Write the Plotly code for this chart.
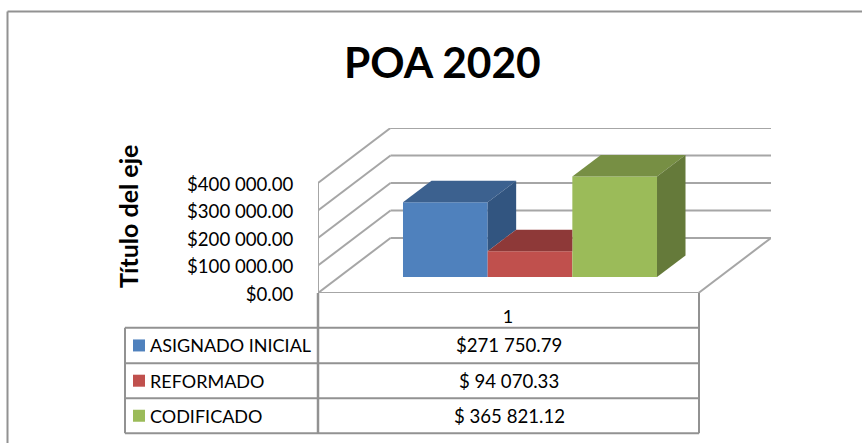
import plotly.graph_objects as go

# ---- data ----
series_names = ["ASIGNADO INICIAL", "REFORMADO", "CODIFICADO"]
series_values = [271750.79, 94070.33, 365821.12]
series_labels = ["$271 750.79", "$ 94 070.33", "$ 365 821.12"]
category = ["1"]
y_tick_vals = [0, 100000, 200000, 300000, 400000]
y_tick_text = ["$0.00", "$100 000.00", "$200 000.00", "$300 000.00", "$400 000.00"]
title_text = "POA 2020"
axis_title = "Título del eje"

# ---- style ----
FRONT = ["#4f81bd", "#c0504d", "#9bbb59"]
TOP = ["#3c618f", "#8e3938", "#778f44"]
SIDE = ["#325580", "#7a3130", "#657a3a"]
GRID = "#a6a6a6"
TABLE = "#929292"
FONT = "Lato"
TXT = 18
TXT_VAL = 18.6
W, H = 862, 443
L, R, T, B = 318, 771, 128, 293
PX_PER_X = 380.0          # pixels per category unit
X_MIN = 0.5
X_MAX = X_MIN + (R - L) / PX_PER_X
Y_MAX = 600000
PX_PER_Y = (B - T) / Y_MAX
WALL_DX = 72.5 / PX_PER_X  # oblique depth of the floor, x units
WALL_DY = 55 / PX_PER_Y    # oblique depth of the floor, value units
BAR_DX = 28.5 / PX_PER_X   # depth of a bar
BAR_DY = 21.5 / PX_PER_Y
LIFT_X = 22 / PX_PER_X     # offset of bars' front face from the front edge
LIFT_Y = 16 / PX_PER_Y
BAR_W = 84.67 / PX_PER_X


def paper_x(px):
    return (px - L) / (R - L)


def paper_y(py):
    return (B - py) / (B - T)


fig = go.Figure()
cx = 1 + LIFT_X
n = len(series_values)
for i, (name, v) in enumerate(zip(series_names, series_values)):
    fig.add_trace(go.Bar(x=[cx], y=[v], base=LIFT_Y, name=name, marker=dict(color=FRONT[i], line=dict(width=0)),
                         showlegend=False))

for i, v in enumerate(series_values):
    x0 = cx + (i - n / 2) * BAR_W
    x1 = x0 + BAR_W
    top = LIFT_Y + v
    nxt = series_values[i + 1] if i + 1 < n else None
    # hidden-surface handling against the right-hand neighbour
    if nxt is not None and nxt > v:
        tx = [x0, x1, x1, x0 + BAR_DX, x0]
    else:
        tx = [x0, x1, x1 + BAR_DX, x0 + BAR_DX, x0]
    ty = [top, top, top + BAR_DY, top + BAR_DY, top]
    fig.add_trace(go.Scatter(x=tx, y=ty, mode="lines", fill="toself", fillcolor=TOP[i],
                             line=dict(width=0, color=TOP[i]), showlegend=False, hoverinfo="skip"))
    if nxt is None or nxt < v:
        low = LIFT_Y + (nxt if nxt is not None else 0)
        fig.add_trace(go.Scatter(x=[x1, x1 + BAR_DX, x1 + BAR_DX, x1, x1],
                                 y=[top, top + BAR_DY, low + BAR_DY, low, top],
                                 mode="lines", fill="toself", fillcolor=SIDE[i],
                                 line=dict(width=0, color=SIDE[i]), showlegend=False, hoverinfo="skip"))

shapes = []


def line(x0, y0, x1, y1, color=GRID, width=2, xref="x", yref="y"):
    shapes.append(dict(type="line", x0=x0, y0=y0, x1=x1, y1=y1, xref=xref, yref=yref,
                       layer="below", line=dict(color=color, width=width)))


front_r = X_MIN + (698.5 - L) / PX_PER_X
for v in y_tick_vals:
    line(X_MIN, v, X_MIN + WALL_DX, v + WALL_DY)
    line(X_MIN + WALL_DX, v + WALL_DY, X_MAX, v + WALL_DY)
line(X_MIN, 0, X_MIN, y_tick_vals[-1])
line(X_MIN, 0, front_r, 0)
line(front_r, 0, front_r + WALL_DX, WALL_DY)

# data table + frame, in page pixels
ROWS = [327.7, 363.2, 398.2, 433.3]
TL, TM, TR = 125, 318, 699
for py in ROWS:
    line(paper_x(TL), paper_y(py), paper_x(TR), paper_y(py), TABLE, 2, "paper", "paper")
line(paper_x(TL), paper_y(ROWS[0]), paper_x(TL), paper_y(ROWS[-1]), TABLE, 2, "paper", "paper")
line(paper_x(TM), paper_y(B), paper_x(TM), paper_y(ROWS[-1]), TABLE, 2.5, "paper", "paper")
line(paper_x(TR), paper_y(B), paper_x(TR), paper_y(ROWS[-1]), TABLE, 2, "paper", "paper")
line(paper_x(7.5), paper_y(11.5), paper_x(W), paper_y(11.5), TABLE, 2, "paper", "paper")
line(paper_x(7.5), paper_y(11.5), paper_x(7.5), paper_y(H), TABLE, 2, "paper", "paper")

annotations = []


def text(px, py, s, size, bold=False, angle=0, anchor="center"):
    annotations.append(dict(x=paper_x(px), y=paper_y(py), xref="paper", yref="paper", text=f"<b>{s}</b>" if bold else s,
                            showarrow=False, textangle=angle, xanchor=anchor, yanchor="middle",
                            font=dict(family=FONT, size=size, color="#000000")))


text(442, 61.5, title_text, 42.5, bold=True)
text(128, 217, axis_title, 25, bold=True, angle=-90)
for i in range(n):
    cy = (ROWS[i] + ROWS[i + 1]) / 2
    shapes.append(dict(type="rect", xref="paper", yref="paper", x0=paper_x(133), x1=paper_x(145),
                       y0=paper_y(cy - 6), y1=paper_y(cy + 6), fillcolor=FRONT[i], line=dict(width=0)))
    text(148, cy, series_names[i], TXT, anchor="left")
    text(509, cy, series_labels[i], TXT_VAL)

fig.update_layout(
    width=W, height=H, autosize=False,
    margin=dict(l=L, r=W - R, t=T, b=H - B, pad=0),
    paper_bgcolor="white", plot_bgcolor="rgba(0,0,0,0)",
    barmode="group", bargap=1 - n * BAR_W,
    shapes=shapes, annotations=annotations,
    font=dict(family=FONT, size=TXT, color="#000000"),
    xaxis=dict(range=[X_MIN, X_MAX], tickmode="array", tickvals=[1], ticktext=category,
               ticks="outside", ticklen=7.5, tickcolor="rgba(0,0,0,0)", showgrid=False,
               zeroline=False, showline=False, automargin=False, fixedrange=True),
    yaxis=dict(range=[0, Y_MAX], tickmode="array", tickvals=y_tick_vals, ticktext=y_tick_text,
               ticks="outside", ticklen=20, tickcolor="rgba(0,0,0,0)", showgrid=False,
               ticklabelshift=1, tickfont=dict(family=FONT, size=TXT_VAL, color="#000000"),
               zeroline=False, showline=False, automargin=False, fixedrange=True),
)
fig.write_html("out.html", config={"displayModeBar": False},
               post_script="document.body.style.margin='0';document.documentElement.style.overflow='hidden';")
